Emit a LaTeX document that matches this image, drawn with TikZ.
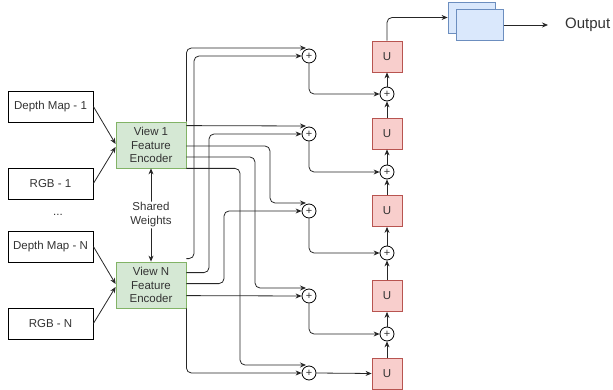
\documentclass[tikz,border=0pt]{standalone}
\usepackage{fontspec}
\setmainfont{Liberation Sans}
\usetikzlibrary{arrows.meta}
\definecolor{gfill}{HTML}{D5E8D4}
\definecolor{gline}{HTML}{82B366}
\definecolor{rfill}{HTML}{F8CECC}
\definecolor{rline}{HTML}{B85450}
\definecolor{bfill}{HTML}{DAE8FC}
\definecolor{bline}{HTML}{6C8EBF}
\definecolor{txt}{HTML}{333333}
\tikzset{
  inbox/.style={draw=black, line width=0.8pt, fill=white, minimum width=85pt, minimum height=31pt, inner sep=0pt, font=\fontsize{11.5}{13.8}\selectfont, text=txt},
  encbox/.style={draw=gline, line width=0.8pt, fill=gfill, minimum width=70pt, minimum height=46pt, inner sep=0pt, align=center, font=\fontsize{11.5}{13.6}\selectfont, text=txt},
  ubox/.style={draw=rline, line width=0.8pt, fill=rfill, minimum width=30pt, minimum height=31pt, inner sep=0pt, font=\fontsize{11.5}{13.8}\selectfont, text=txt},
  outbox/.style={draw=bline, line width=0.8pt, fill=bfill, minimum width=47pt, minimum height=31pt, inner sep=0pt},
  sumc/.style={draw=black, line width=0.8pt, fill=white, circle, minimum size=14pt, inner sep=0pt, font=\fontsize{11}{12}\selectfont, text=txt},
  conn/.style={line width=0.8pt, draw=black!85, rounded corners=5pt},
  arr/.style={conn, -{Stealth[length=6pt,width=5pt]}},
  darr/.style={conn, {Stealth[length=6pt,width=5pt]}-{Stealth[length=6pt,width=5pt]}},
}
\begin{document}
\begin{tikzpicture}[x=1pt,y=-1pt]
\useasboundingbox (0,0) rectangle (613,390);
% inputs
\node[inbox] (d1) at (50.5,106.5) {Depth Map - 1};
\node[inbox] (r1) at (50.5,183.5) {RGB - 1};
\node[inbox] (dN) at (50.5,246.5) {Depth Map - N};
\node[inbox] (rN) at (50.5,323.5) {RGB - N};
\node[font=\fontsize{11.5}{13.8}\selectfont, text=txt] (dots) at (58,215) {...};
% encoders
\node[encbox] (enc1) at (151,145) {View 1\\Feature\\Encoder};
\node[encbox] (encN) at (151,285) {View N\\Feature\\Encoder};
% sum circles column 1
\node[sumc] (c1) at (309,56) {+};
\node[sumc] (c2) at (309,134) {+};
\node[sumc] (c3) at (309,211) {+};
\node[sumc] (c4) at (309,296) {+};
\node[sumc] (c5) at (309,373) {+};
% sum circles column 2
\node[sumc] (s1) at (387,94) {+};
\node[sumc] (s2) at (387,172) {+};
\node[sumc] (s3) at (387,253) {+};
\node[sumc] (s4) at (387,334) {+};
% U boxes
\node[ubox] (u1) at (387,56.5) {U};
\node[ubox] (u2) at (387,133.5) {U};
\node[ubox] (u3) at (387,211) {U};
\node[ubox] (u4) at (387,296) {U};
\node[ubox] (u5) at (387,373.5) {U};
% output stack
\node[outbox] (back) at (471.5,17.5) {};
\node[outbox] (front) at (480,25) {};
\coordinate (oend) at (548,25);
\node[anchor=west, font=\fontsize{15}{18}\selectfont, text=txt, inner sep=0pt] (out) at (565,25) {Output};
% input arrows
\draw[arr] (d1.east) -- ([yshift=1pt]enc1.west);
\draw[arr] (r1.east) -- ([yshift=-2pt]enc1.west);
\draw[arr] (dN.east) -- ([yshift=1pt]encN.west);
\draw[arr] (rN.east) -- ([yshift=-2pt]encN.west);
% shared weights
\draw[darr] (enc1.south) -- (encN.north)
  node[midway, fill=white, inner sep=1pt, align=center, font=\fontsize{11.5}{14}\selectfont, text=txt] (sw) {Shared\\Weights};
% encoder 1 outputs
\draw[arr] (enc1.north east) |- ([xshift=-3pt,yshift=8pt]c1.center);
\draw[arr] ([yshift=-4pt]enc1.north east) -- ([xshift=-3pt,yshift=8pt]c2.center);
\draw[arr] ([yshift=-1pt]enc1.east) -| (270,203) -- ([xshift=-3pt,yshift=8pt]c3.center);
\draw[arr] ([yshift=-12pt]enc1.east) -| (255,288) -- ([xshift=-3pt,yshift=8pt]c4.center);
\draw[arr] (enc1.south east) -| (240,365) -- ([xshift=-3pt,yshift=8pt]c5.center);
% encoder N outputs
\draw[arr] ([yshift=3pt]encN.north east) -| (194,56) -- (c1.west);
\draw[arr] ([yshift=-11pt]encN.north east) -| (209,134) -- (c2.west);
\draw[arr] ([yshift=-22pt]encN.north east) -| (224,211) -- (c3.west);
\draw[arr] ([yshift=-34pt]encN.north east) -- (c4.west);
\draw[arr] (encN.south east) |- (c5.west);
% column 1 to column 2
\draw[arr] (c1.south) |- (s1.west);
\draw[arr] (c2.south) |- (s2.west);
\draw[arr] (c3.south) |- (s3.west);
\draw[arr] (c4.south) |- (s4.west);
\draw[arr] (c5.east) -- (u5.west);
% chain
\draw[arr] (u5.north) -- (s4.south);
\draw[arr] (s4.north) -- (u4.south);
\draw[arr] (u4.north) -- (s3.south);
\draw[arr] (s3.north) -- (u3.south);
\draw[arr] (u3.north) -- (s2.south);
\draw[arr] (s2.north) -- (u2.south);
\draw[arr] (u2.north) -- (s1.south);
\draw[arr] (s1.north) -- (u1.south);
% to output
\draw[arr] (u1.north) |- (back.west);
\draw[arr] (front.east) -- (oend);
\end{tikzpicture}
\end{document}
